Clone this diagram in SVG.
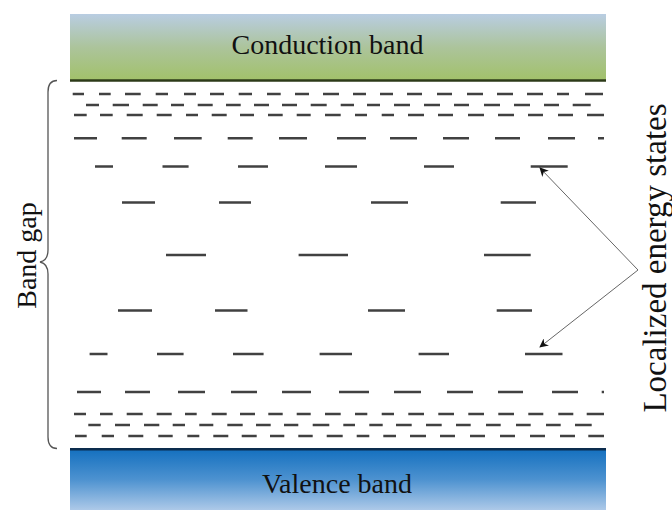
<svg xmlns="http://www.w3.org/2000/svg" width="672" height="510" viewBox="0 0 672 510">
  <defs>
    <linearGradient id="gCond" x1="0" y1="0" x2="0" y2="1">
      <stop offset="0" stop-color="#b9cde2"/>
      <stop offset="0.5" stop-color="#acc49c"/>
      <stop offset="1" stop-color="#a2c16a"/>
    </linearGradient>
    <linearGradient id="gVal" x1="0" y1="0" x2="0" y2="1">
      <stop offset="0" stop-color="#1470bf"/>
      <stop offset="0.5" stop-color="#4d92d0"/>
      <stop offset="1" stop-color="#adc9e8"/>
    </linearGradient>
    <marker id="arr" viewBox="0 0 10 10" refX="9" refY="5" markerWidth="9" markerHeight="9" markerUnits="userSpaceOnUse" orient="auto">
      <path d="M0,0 L10,5 L0,10 L3,5 Z" fill="#111"/>
    </marker>
    <style>
      .lbl { font-family: "Liberation Serif", "Times New Roman", serif; font-size: 28px; fill: #111; }
      .st { fill: none; stroke: #414141; stroke-width: 2.4; }
      .con { fill: none; stroke: #666; stroke-width: 1; }
      .brace { fill: none; stroke: #555; stroke-width: 1.3; }
    </style>
  </defs>

  <g id="conduction-band">
    <rect x="70" y="14" width="536" height="66" fill="url(#gCond)"/>
    <line x1="70" y1="80.5" x2="606" y2="80.5" stroke="#2c3a18" stroke-width="2.5"/>
    <text class="lbl" x="327.5" y="54" text-anchor="middle">Conduction band</text>
  </g>

  <g id="valence-band">
    <rect x="70" y="449" width="536" height="61" fill="url(#gVal)"/>
    <line x1="70" y1="449.3" x2="606" y2="449.3" stroke="#0c2c4e" stroke-width="2.6"/>
    <text class="lbl" x="337" y="493" text-anchor="middle">Valence band</text>
  </g>

  <g id="localized-states">
    <path class="st" d="M72.7 94H84M99 94H110.7M125 94H140.7M155.7 94H168M184 94H196M210 94H224M238.7 94H252M267 94H280.7M295 94H309M323 94H339M353 94H366M380 94H393M407 94H422M437 94H452M467 94H483M497 94H513M527 94H543M557 94H569M585 94H603"/>
    <path class="st" d="M86 105H99M112.7 105H129M142.7 105H157.7M171 105H184M197.7 105H212.7M226 105H240.7M254 105H269M282 105H297M310.7 105H326.7M340.7 105H354M367 105H380M394 105H410M424 105H440M454 105H469M484 105H500M514 105H530M544 105H559M572.7 105H590.7"/>
    <path class="st" d="M74 115H86.7M100 115H112.7M126.7 115H142.7M156.7 115H171.7M186 115H198M211.7 115H226.7M240 115H254M268 115H282.7M296.7 115H310.7M325 115H340.7M355 115H367M381.7 115H394M408 115H424M438 115H453M468 115H484M498 115H514M528 115H543M558 115H573M587 115H604"/>
    <path class="st" d="M74 138.3H97M121.7 138.3H146.7M174 138.3H201.7M227.7 138.3H252.7M279 138.3H307M337 138.3H366M390 138.3H417M443 138.3H469M495 138.3H520M548 138.3H575M598 138.3H604"/>
    <path class="st" d="M95 166.5H113M162.5 166.5H188.6M238 166.5H268M325 166.5H357M424 166.5H454M530.7 166.5H567.7"/>
    <path class="st" d="M122 202.5H155M219 202.5H251M371 202.5H408M500.7 202.5H536"/>
    <path class="st" d="M166 255H206M298.6 255H348M484 255H530.7"/>
    <path class="st" d="M118 310.5H152M215 310.5H247.5M368 310.5H405M496.7 310.5H532"/>
    <path class="st" d="M89.6 354H107.5M157 354H183.6M233 354H263.6M319.6 354H352M418.6 354H449M525 354H562.5"/>
    <path class="st" d="M77 392H101M125 392H150M178 392H205M231 392H257M282 392H311M339 392H369M394 392H421M447 392H473M498 392H523M552 392H578M601.7 392H604"/>
    <path class="st" d="M74 414H86M100 414H112.7M126.7 414H142.7M156.7 414H171.7M185 414H196.7M211.7 414H226.7M240 414H255M268.3 414H282.7M296.7 414H310.7M325 414H340.7M355 414H367.3M381.7 414H394M408.3 414H424M438.3 414H454M468.3 414H484M498.3 414H514M528.3 414H543.3M558.3 414H573.3M586.7 414H604"/>
    <path class="st" d="M88.3 425H100.7M115 425H130M144 425H159.3M172.7 425H185M199.3 425H213.3M227.3 425H242.7M256 425H270.7M284 425H298.3M312.7 425H329.3M343.3 425H355M369.3 425H382.7M396 425H411.7M426 425H441.7M456 425H470.7M486 425H500.7M516 425H530.7M546 425H560.7M575 425H591.7"/>
    <path class="st" d="M75 436H86.7M101.7 436H114M128.3 436H143.3M158.3 436H172.7M187.3 436H199.3M213.3 436H228.3M241.7 436H256.7M270 436H284.3M298.3 436H312.7M326.7 436H342.7M356.7 436H369.3M383.3 436H396M410 436H426M440 436H455M470 436H485M500 436H515M530 436H545M560 436H575M588.3 436H604"/>
  </g>

  <g id="band-gap">
    <path class="brace" d="M57,80.5 C51,80.5 48,84 48,92 L48,250 C48,257 45,261 40,262 C45,263 48,267 48,274 L48,437 C48,445 51,448.5 57,448.5"/>
    <text class="lbl" transform="translate(36,255.5) rotate(-90)" text-anchor="middle">Band gap</text>
  </g>

  <g id="label-localized">
    <text class="lbl" transform="translate(666,258) rotate(-90)" text-anchor="middle" style="font-size:33px">Localized energy states</text>
  </g>

  <g id="connectors">
    <line class="con" x1="638" y1="270" x2="540" y2="168" marker-end="url(#arr)"/>
    <line class="con" x1="638" y1="270" x2="540" y2="347" marker-end="url(#arr)"/>
  </g>
</svg>
